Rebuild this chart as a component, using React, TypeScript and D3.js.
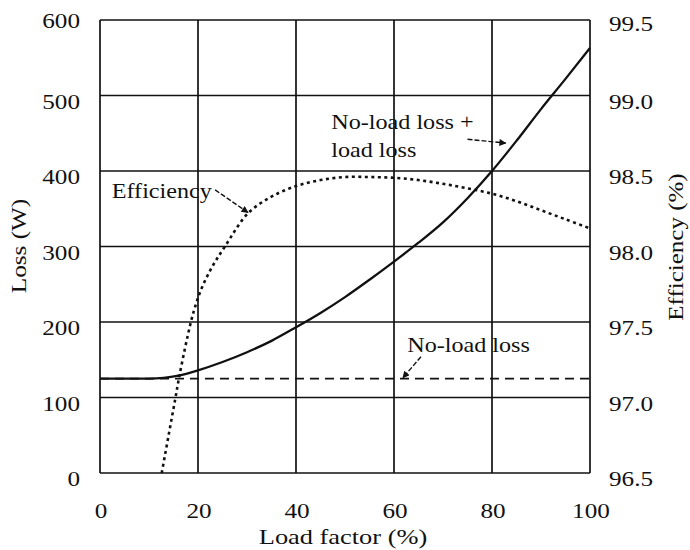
import React, { useEffect, useRef } from 'react';
import * as d3 from 'd3';

// load factor (%) and losses (W)
const loadPct = [0, 10, 13, 16, 20, 25, 30, 35, 40, 45, 50, 55, 60, 65, 70, 75, 80, 85, 90, 95, 100];
const totalLoss = [125, 125, 126, 129, 136, 147, 160, 175, 193, 212, 233, 256, 280, 305, 332, 364, 400, 440, 482, 522, 563];
const noLoadX = [0, 100];
const noLoadLoss = [125, 125];

// efficiency (%) curve
const effLoad = [12.6, 14, 15.3, 16.3, 18.4, 19.4, 20.7, 22.8, 25.5, 30.2, 35, 40, 45, 50, 55, 60, 65, 70, 75, 80, 85, 90, 95, 100];
const efficiency = [96.5, 96.75, 96.98, 97.16, 97.48, 97.6, 97.72, 97.86, 98.0, 98.22, 98.33, 98.4, 98.44, 98.46, 98.46, 98.455, 98.44, 98.415, 98.385, 98.35, 98.3, 98.24, 98.18, 98.12];

const xTicks = [0, 20, 40, 60, 80, 100];
const lossTicks = [0, 100, 200, 300, 400, 500, 600];
const effTicks = ['96.5', '97.0', '97.5', '98.0', '98.5', '99.0', '99.5'];

const App = () => {
    const ref = useRef<SVGSVGElement>(null);

    useEffect(() => {
        const svg = d3.select(ref.current);
        svg.selectAll("*").remove();

        const font = "'Liberation Serif', 'DejaVu Serif', serif";
        const ink = "#111";

        const x = d3.scaleLinear().domain([0, 100]).range([100, 590]);
        const yL = d3.scaleLinear().domain([0, 600]).range([473, 20]);
        const yR = d3.scaleLinear().domain([96.5, 99.5]).range([473, 20]);

        // the scanned type is wide, so stretch the glyphs horizontally
        const txt = (px: number, py: number, s: string, anchor = "start", size = 21, sx = 1.2, rot = 0) => {
            svg.append("text")
                .attr("transform", `translate(${px},${py}) rotate(${rot}) scale(${sx},1)`)
                .attr("text-anchor", anchor)
                .attr("font-family", font)
                .attr("font-size", size)
                .attr("fill", ink)
                .text(s);
        };

        svg.append("defs").append("marker")
            .attr("id", "arr")
            .attr("viewBox", "0 0 10 10")
            .attr("refX", 9).attr("refY", 5)
            .attr("markerWidth", 9).attr("markerHeight", 7)
            .attr("markerUnits", "userSpaceOnUse")
            .attr("orient", "auto")
            .append("path")
            .attr("d", "M0,0 L10,5 L0,10 z")
            .attr("fill", ink);

        // grid
        const grid = svg.append("g").attr("stroke", ink).attr("stroke-width", 1.7);
        xTicks.forEach(t => {
            grid.append("line")
                .attr("x1", x(t)).attr("x2", x(t))
                .attr("y1", yL(0)).attr("y2", yL(600));
        });
        lossTicks.forEach(t => {
            grid.append("line")
                .attr("x1", x(0)).attr("x2", x(100))
                .attr("y1", yL(t)).attr("y2", yL(t));
        });

        // tick labels
        lossTicks.forEach(t => txt(x(0) - 20, yL(t) + (t === 600 ? 8 : 13), String(t), "end"));
        effTicks.forEach(t => txt(x(100) + 19, yR(+t) + (t === '99.5' ? 11 : 13), t, "start"));
        xTicks.forEach(t => txt(x(t) + 1, yL(0) + 45, String(t), "middle"));

        // axis titles
        txt(343, 544, "Load factor (%)", "middle", 22, 1.2);
        txt(26, 246, "Loss (W)", "middle", 21, 1.2, -90);
        txt(683, 247, "Efficiency (%)", "middle", 20, 1.25, -90);

        // curves
        const lossLine = d3.line<number>()
            .x((d, i) => x(loadPct[i]))
            .y(d => yL(d))
            .curve(d3.curveMonotoneX);

        svg.append("path")
            .datum(totalLoss)
            .attr("fill", "none")
            .attr("stroke", ink)
            .attr("stroke-width", 2.3)
            .attr("d", lossLine);

        svg.append("path")
            .datum(noLoadLoss)
            .attr("fill", "none")
            .attr("stroke", ink)
            .attr("stroke-width", 1.8)
            .attr("stroke-dasharray", "9,6")
            .attr("d", d3.line<number>().x((d, i) => x(noLoadX[i])).y(d => yL(d)));

        const effLine = d3.line<number>()
            .x((d, i) => x(effLoad[i]))
            .y(d => yR(d))
            .curve(d3.curveCatmullRom.alpha(0.5));

        svg.append("path")
            .datum(efficiency)
            .attr("fill", "none")
            .attr("stroke", ink)
            .attr("stroke-width", 2.6)
            .attr("stroke-dasharray", "3,3.5")
            .attr("d", effLine);

        // annotations (data coords: load %, loss W)
        const arrow = (ax1: number, ay1: number, ax2: number, ay2: number) => {
            svg.append("line")
                .attr("x1", x(ax1)).attr("y1", yL(ay1))
                .attr("x2", x(ax2)).attr("y2", yL(ay2))
                .attr("stroke", ink)
                .attr("stroke-width", 1.4)
                .attr("stroke-dasharray", "5,2")
                .attr("marker-end", "url(#arr)");
        };

        txt(x(2.4), yL(364), "Efficiency", "start", 21, 1.15);
        arrow(23.5, 375, 30.2, 345);

        txt(x(47.2), yL(455), "No-load loss +", "start", 21, 1.15);
        txt(x(47.2), yL(418), "load loss", "start", 21, 1.15);
        arrow(75, 442, 82.8, 437);

        txt(x(62.7), yL(160), "No-load loss", "start", 21, 1.15);
        arrow(65.5, 154, 61.8, 126);
    }, []);

    return (
        <svg ref={ref} width={690} height={550}
            style={{ position: 'absolute', left: 0, top: 0, background: '#fff' }} />
    );
};

export default App;
